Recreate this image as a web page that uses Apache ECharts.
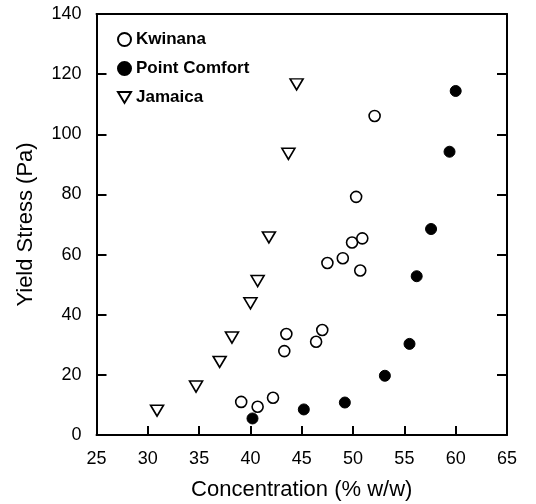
<!DOCTYPE html>
<html>
<head>
<meta charset="utf-8">
<script src="https://cdn.jsdelivr.net/npm/echarts@6/dist/echarts.min.js"></script>
<style>
  html, body { margin: 0; padding: 0; background: #fff; }
  #chart { width: 536px; height: 504px; }
</style>
</head>
<body>
<div id="chart"></div>
<script>
// data
var kwinanaX = [39.1, 40.7, 42.2, 43.3, 43.5, 46.4, 47.0, 47.5, 49.0, 49.9, 50.9, 50.7, 50.3, 52.1];
var kwinanaY = [11.0, 9.4, 12.4, 27.9, 33.6, 31.0, 34.9, 57.2, 58.8, 64.0, 65.4, 54.7, 79.2, 106.1];

var pointComfortX = [40.2, 45.2, 49.2, 53.1, 55.5, 56.2, 57.6, 59.4, 60.0];
var pointComfortY = [5.5, 8.5, 10.8, 19.7, 30.3, 52.8, 68.5, 94.2, 114.4];

var jamaicaX = [30.9, 34.7, 37.0, 38.2, 40.0, 40.7, 41.8, 43.7, 44.5];
var jamaicaY = [8.1, 16.1, 24.3, 32.4, 43.8, 51.2, 65.7, 93.5, 116.6];

var seriesNames = ['Kwinana', 'Point Comfort', 'Jamaica'];

function pairs(xs, ys) {
    var out = [];
    for (var i = 0; i < xs.length; i++) {
        out.push([xs[i], ys[i]]);
    }
    return out;
}

var font = 'Liberation Sans, Arial, sans-serif';
// legend icon for the open down-pointing triangle
var downTriangle = 'path://M0,0 L12,0 L6,10 Z';

var chart = echarts.init(document.getElementById('chart'));
var option = {
    animation: false,
    backgroundColor: '#fff',
    grid: {
        left: 96.5,
        right: 29,
        top: 14,
        bottom: 69,
        outerBoundsMode: 'none'
    },
    legend: {
        orient: 'vertical',
        left: 112,
        top: 26,
        itemWidth: 13,
        itemHeight: 13,
        itemGap: 12,
        data: [
            { name: seriesNames[0] },
            { name: seriesNames[1] },
            { name: seriesNames[2], icon: downTriangle }
        ],
        textStyle: {
            fontFamily: font,
            fontSize: 17,
            fontWeight: 'bold',
            color: '#000'
        }
    },
    xAxis: [{
        type: 'value',
        min: 25,
        max: 65,
        interval: 5,
        name: 'Concentration (% w/w)',
        nameLocation: 'middle',
        nameGap: 44,
        nameTextStyle: { fontFamily: font, fontSize: 22, color: '#000' },
        axisLine: { onZero: false, lineStyle: { color: '#000', width: 2 } },
        axisTick: { inside: true, length: 9, lineStyle: { color: '#000', width: 2 } },
        axisLabel: { fontFamily: font, fontSize: 18, color: '#000', margin: 15 },
        splitLine: { show: false }
    }, {
        // top edge of the frame
        type: 'value',
        position: 'top',
        min: 25,
        max: 65,
        interval: 5,
        axisLine: { show: true, onZero: false, lineStyle: { color: '#000', width: 2 } },
        axisTick: { show: false },
        axisLabel: { show: false },
        splitLine: { show: false }
    }],
    yAxis: [{
        type: 'value',
        min: 0,
        max: 140,
        interval: 20,
        name: 'Yield Stress (Pa)',
        nameLocation: 'middle',
        nameGap: 60,
        nameTextStyle: { fontFamily: font, fontSize: 22, color: '#000' },
        axisLine: { show: true, onZero: false, lineStyle: { color: '#000', width: 2 } },
        axisTick: { show: true, inside: true, length: 10, lineStyle: { color: '#000', width: 2 } },
        axisLabel: { fontFamily: font, fontSize: 18, color: '#000', margin: 15 },
        splitLine: { show: false }
    }, {
        // right edge of the frame
        type: 'value',
        position: 'right',
        min: 0,
        max: 140,
        interval: 20,
        axisLine: { show: true, onZero: false, lineStyle: { color: '#000', width: 2 } },
        axisTick: { show: true, inside: true, length: 10, lineStyle: { color: '#000', width: 2 } },
        axisLabel: { show: false },
        splitLine: { show: false }
    }],
    series: [{
        name: 'Kwinana',
        type: 'scatter',
        symbol: 'circle',
        symbolSize: 11,
        itemStyle: { color: '#fff', borderColor: '#000', borderWidth: 1.6, opacity: 1 },
        data: pairs(kwinanaX, kwinanaY)
    }, {
        name: 'Point Comfort',
        type: 'scatter',
        symbol: 'circle',
        symbolSize: 11,
        itemStyle: { color: '#000', borderColor: '#000', borderWidth: 1, opacity: 1 },
        data: pairs(pointComfortX, pointComfortY)
    }, {
        name: 'Jamaica',
        type: 'scatter',
        symbol: 'triangle',
        symbolRotate: 180,
        symbolSize: [13, 11],
        itemStyle: { color: '#fff', borderColor: '#000', borderWidth: 1.6, opacity: 1 },
        data: pairs(jamaicaX, jamaicaY)
    }]
};
chart.setOption(option);
</script>
</body>
</html>
